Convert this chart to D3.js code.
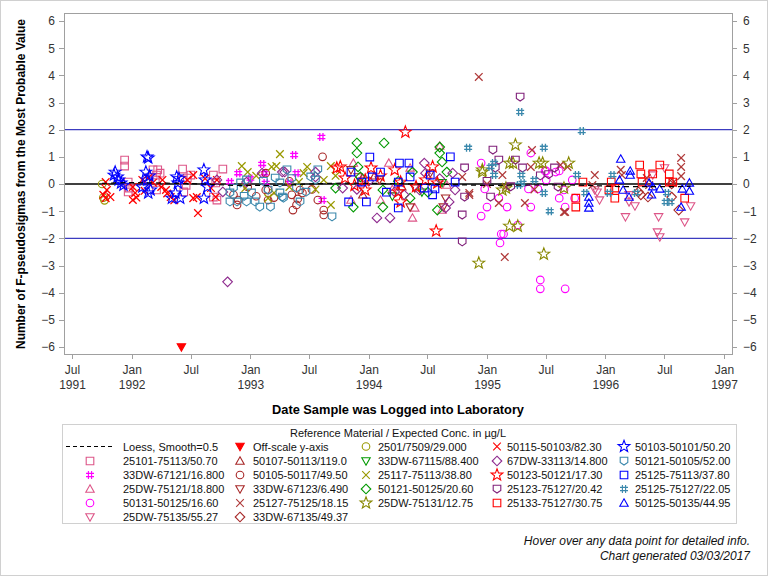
<!DOCTYPE html>
<html>
<head>
<meta charset="utf-8">
<script src="https://d3js.org/d3.v7.min.js"></script>
<style>
  html, body { margin: 0; padding: 0; background: #fff; }
  svg { display: block; font-family: "Liberation Sans", Arial, sans-serif; }
  .axis text { font-size: 12px; fill: #333; }
  .axis path, .axis line { stroke: #a0a0a0; shape-rendering: crispEdges; }
  .leg text { font-size: 11px; fill: #111; }
</style>
</head>
<body>
<svg id="chart" width="768" height="576"></svg>
<script>
// [decimal year, pseudosigmas]
const ref2501 = [[1991.75,0.0],[1991.77,-0.6],[1991.76,-0.5]];
const red50115 = [[1991.78,0.07],[1991.79,-0.22],[1991.76,-0.4],[1991.82,-0.48],[1991.78,-0.52],[1992.01,-0.11],[1992.03,-0.33],[1992.01,-0.59],[1992.09,0.15],[1992.14,0.22],[1992.26,0.15],[1992.29,-0.22],[1992.33,-0.48],[1992.25,-0.11],[1992.52,0.33],[1992.55,-0.48],[1992.52,-0.52],[1992.56,-1.07],[1992.67,-0.15],[1992.71,-0.48],[1992.72,0.15],[1992.47,0.15],[1992.04,-0.5],[1992.30,-0.35],[1992.18,0.05],[1992.62,0.2],[1992.36,-0.6],[1992.11,-0.25]];
const blue50103 = [[1991.86,0.44],[1991.88,0.26],[1991.89,0.15],[1991.85,0.33],[1991.91,0.04],[1992.13,1.0],[1992.14,0.96],[1992.12,0.44],[1992.13,0.15],[1992.16,-0.22],[1992.14,-0.33],[1992.38,0.26],[1992.39,0.04],[1992.37,-0.33],[1992.41,-0.52],[1992.34,-0.52],[1992.61,0.52],[1992.62,0.15],[1992.64,-0.11],[1992.61,-0.52],[1991.93,-0.04],[1992.09,-0.11],[1992.15,0.3],[1992.40,0.2]];
const pink25101 = [[1991.94,0.88],[1991.94,0.66],[1991.97,0.07],[1991.98,-0.15],[1991.97,-0.29],[1992.18,0.52],[1992.21,0.33],[1992.22,0.52],[1992.2,0.15],[1992.21,-0.22],[1992.43,0.55],[1992.43,0.15],[1992.47,0.22],[1992.44,-0.29],[1992.69,0.33],[1992.71,0.04],[1992.77,0.55],[1992.72,-0.59],[1992.69,-0.48],[1992.5,0.33],[1992.24,0.4],[1992.46,-0.05]];
const offScale = [[1992.42,-6]];
const teal50121 = [[1992.83,-0.33],[1992.83,-0.66],[1992.89,-0.66],[1992.97,-0.66],[1993.04,-0.66],[1993.08,-0.85],[1993.17,-0.85],[1992.97,0.15],[1993.01,-0.33],[1993.21,0.22],[1993.25,-0.33],[1993.28,-0.52],[1993.31,0.52],[1993.39,-0.15],[1993.42,-0.66],[1993.57,0.52],[1993.55,0.15],[1993.69,-1.21],[1992.86,-0.15],[1992.92,0.04],[1993.15,-0.22],[1993.25,0.04],[1993.51,0.26],[1993.27,-0.48],[1993.11,0.1],[1993.35,0.2],[1993.47,-0.3],[1992.95,-0.45]];
const dred50105 = [[1992.86,-0.4],[1992.89,-0.77],[1992.9,-0.59],[1993.13,-0.22],[1993.15,-0.59],[1993.13,0.4],[1993.35,-0.4],[1993.36,-0.96],[1993.39,-0.77],[1993.42,-0.22],[1993.61,1.0],[1993.62,-0.96],[1993.62,-1.14],[1993.57,-0.59],[1993.15,-0.22],[1992.98,-0.11],[1993.44,-0.33],[1993.40,-0.55],[1993.05,-0.45],[1993.33,0.1],[1993.52,-0.2],[1993.2,-0.5]];
const olive25117 = [[1993.25,1.1],[1992.93,0.66],[1992.98,0.44],[1993.18,0.63],[1993.22,0.66],[1993.48,0.63],[1993.68,0.66],[1993.68,-0.77],[1993.2,-0.33],[1993.15,-0.52],[1992.96,-0.15],[1993.45,0.4],[1993.62,0.15],[1993.41,0.07],[1993.33,-0.11],[1993.05,0.3],[1993.55,-0.2],[1993.72,0.3]];
const mag33DW67121 = [[1993.37,1.07],[1993.1,0.74],[1992.9,0.4],[1993.13,0.04],[1993.39,0.4],[1993.33,0.04],[1993.61,-0.59],[1993.6,1.73],[1992.83,0.07],[1993.12,0.4],[1993.0,0.2]];
const purp67DW = [[1992.81,-3.6],[1992.77,-0.29],[1992.97,0.07],[1993.1,0.4],[1993.27,0.44],[1993.55,0.26],[1993.78,-0.15],[1994.07,-1.25],[1994.18,-1.25],[1994.43,-0.22],[1994.48,0.4],[1994.47,0.77],[1994.22,-0.29],[1994.71,0.4],[1994.65,-0.88],[1994.73,-0.22],[1994.68,-0.66],[1992.72,0.15],[1993.29,0.44],[1993.55,0.44],[1994.0,0.1],[1993.9,-0.2],[1994.3,-0.4],[1994.6,0.2]];
const green50121 = [[1993.9,1.51],[1993.9,1.14],[1994.13,1.51],[1994.6,1.14],[1994.6,1.36],[1994.62,0.81],[1994.66,0.44],[1994.37,0.44],[1994.35,-0.52],[1994.12,-0.22],[1993.87,-0.85],[1994.12,-0.85],[1993.93,0.26],[1993.91,0.63],[1994.58,-0.96],[1993.72,-0.15],[1994.25,0.1],[1994.5,-0.3]];
const red50123 = [[1994.31,1.91],[1993.76,0.63],[1994.02,0.59],[1994.22,0.52],[1994.54,0.63],[1993.8,0.22],[1993.97,0.15],[1994.27,0.07],[1994.58,0.04],[1993.97,-0.22],[1994.25,-0.29],[1994.27,-0.66],[1994.48,0.15],[1994.57,-1.73],[1993.73,0.59],[1994.1,0.3],[1994.4,-0.1],[1993.88,-0.05]];
const blue25125 = [[1994.01,0.99],[1993.83,-0.66],[1993.98,-0.66],[1994.25,-0.88],[1994.26,0.77],[1994.34,0.77],[1994.52,0.33],[1994.54,-0.4],[1994.56,-0.18],[1994.73,0.07],[1993.94,0.07],[1994.03,0.26],[1993.85,0.44],[1994.1,0.44],[1994.25,0.07],[1994.35,0.26],[1994.69,1.0],[1994.47,-0.15],[1994.15,-0.3]];
const dred33DW67123 = [[1994.09,0.15],[1993.85,0.52],[1994.35,-0.85],[1994.39,-0.15],[1994.63,-0.85],[1994.65,-0.52],[1994.52,0.4],[1993.91,0.26]];
const pink25DW75121 = [[1994.6,1.4],[1993.87,0.77],[1994.17,0.77],[1993.85,-0.59],[1994.1,-0.59],[1994.39,-0.88],[1994.37,-1.25],[1994.66,-0.04],[1994.35,0.59],[1994.62,-0.96],[1993.95,0.2],[1994.2,-0.2]];
const green33DW67115 = [[1994.45,-0.3],[1994.62,0.05],[1994.2,-0.45]];
const dred50107 = [[1994.05,0.3],[1994.28,-0.1],[1993.95,-0.4]];
const purp25123 = [[1994.81,0.59],[1994.79,-1.14],[1994.79,-2.13],[1994.81,-0.48],[1995.03,-0.48],[1995.1,0.88],[1995.07,0.59],[1995.57,0.59],[1995.6,-0.11],[1995.05,1.25],[1995.24,0.88],[1995.3,0.59],[1995.28,3.2],[1995.0,0.1],[1995.2,-0.1],[1995.45,0.3],[1995.52,0.35]];
const teal25125 = [[1995.28,2.65],[1994.84,1.33],[1995.48,1.33],[1995.03,0.63],[1995.06,0.33],[1995.29,0.33],[1995.27,-0.04],[1995.48,-0.33],[1995.8,1.95],[1995.76,0.33],[1995.53,-1.0],[1995.83,-0.33],[1996.06,0.33],[1996.03,-0.33],[1996.26,-0.33],[1996.51,-0.66],[1996.55,-0.66],[1996.52,-0.33],[1995.06,0.77],[1995.3,0.04],[1995.4,0.15]];
const mag50131 = [[1994.95,0.77],[1994.98,-0.18],[1995.0,-0.85],[1994.95,-1.18],[1995.1,-0.52],[1995.17,-0.85],[1995.12,-1.84],[1995.14,-1.84],[1995.11,-2.17],[1995.26,-1.51],[1995.37,-0.85],[1995.35,-0.18],[1995.43,-0.18],[1995.45,-3.53],[1995.45,-3.86],[1995.66,-3.86],[1995.5,0.15],[1995.58,0.44],[1995.66,-0.85],[1995.74,-0.52],[1995.37,1.14],[1995.49,0.48],[1995.5,0.48],[1995.61,0.48],[1995.65,-0.22],[1995.72,0.15],[1995.61,-0.52]];
const olive25DW75131 = [[1994.93,-2.91],[1995.19,-1.55],[1995.26,-1.55],[1995.48,-2.58],[1994.96,0.44],[1995.22,0.77],[1995.69,0.77],[1995.44,0.77],[1995.16,-0.15],[1995.65,-0.15],[1995.24,1.44],[1995.47,0.77],[1995.19,0.77],[1994.96,0.52],[1995.13,-0.22]];
const dred25127 = [[1994.93,3.94],[1995.15,-2.69],[1995.1,-0.7],[1995.16,-0.11],[1995.65,-1.03],[1995.68,0.63],[1995.91,0.33],[1995.89,-0.04],[1995.37,0.63],[1994.85,-0.33],[1994.79,0.26],[1995.38,1.25],[1995.32,-0.7],[1994.85,-0.4],[1995.13,0.33],[1995.62,0.7],[1995.66,-1.03],[1996.13,0.52],[1996.14,0.33],[1996.35,0.22],[1996.37,-0.04],[1996.64,0.96],[1996.64,0.63],[1996.64,0.29],[1996.57,0.04],[1995.4,-0.2],[1995.0,0.0]];
const red25133 = [[1995.75,-0.52],[1995.75,-0.85],[1995.81,0.07],[1996.05,0.07],[1996.08,-0.52],[1996.29,0.7],[1996.3,0.37],[1996.31,0.07],[1996.4,0.37],[1996.46,0.7],[1996.54,0.37],[1996.54,0.07],[1996.57,0.07],[1996.67,-0.52],[1996.03,-0.22],[1996.08,-0.15]];
const blue50125 = [[1996.13,0.92],[1996.21,0.48],[1996.21,0.33],[1996.12,0.15],[1996.15,-0.22],[1996.2,-0.48],[1995.86,-0.48],[1995.86,-0.7],[1995.86,-0.88],[1996.37,0.04],[1996.39,-0.4],[1996.46,-0.18],[1996.65,-0.18],[1996.71,0.04],[1996.71,-0.26],[1996.64,-0.85],[1996.4,-0.1]];
const pink25DW75135 = [[1995.91,-0.22],[1995.95,-0.59],[1996.17,-1.21],[1996.2,-0.66],[1996.25,-0.81],[1996.45,-1.21],[1996.44,-1.77],[1996.46,-1.95],[1996.67,-1.4],[1996.72,-0.81],[1996.5,0.59],[1996.4,0.33],[1996.2,-0.4],[1995.93,-0.3]];
const dred33DW67135 = [[1996.28,-0.29],[1996.3,-0.4],[1996.56,-0.48],[1996.62,-0.96],[1996.36,-0.48],[1996.56,0.0]];
const loess = [[1991.75,0.02],[1992.0,0.05],[1992.3,0.03],[1992.6,0.0],[1992.9,-0.05],[1993.2,-0.05],[1993.5,0.0],[1993.8,0.03],[1994.1,0.02],[1994.4,0.0],[1994.7,-0.02],[1995.0,-0.05],[1995.3,-0.04],[1995.6,-0.03],[1995.9,-0.06],[1996.2,-0.1],[1996.5,-0.1],[1996.72,-0.08]];

const yTicks = [-6,-5,-4,-3,-2,-1,0,1,2,3,4,5,6];
const refLines = [-2, 2];
const legendTitle = "Reference Material / Expected Conc. in \u00b5g/L";

// legend order (column by column): label, data, symbol, colour
const series = [
  ["25101-75113/50.70", pink25101, "square", "#dd5588"],
  ["33DW-67121/16.800", mag33DW67121, "hash", "#ff00ff"],
  ["25DW-75121/18.800", pink25DW75121, "triangle", "#dd5588"],
  ["50131-50125/16.60", mag50131, "circle", "#ff00ff"],
  ["25DW-75135/55.27", pink25DW75135, "triangledown", "#dd5588"],
  ["Off-scale y-axis", offScale, "filleddown", "#ff0000"],
  ["50107-50113/119.0", dred50107, "triangle", "#a82828"],
  ["50105-50117/49.50", dred50105, "circle", "#a82828"],
  ["33DW-67123/6.490", dred33DW67123, "triangledown", "#a82828"],
  ["25127-75125/18.15", dred25127, "x", "#b03a3a"],
  ["33DW-67135/49.37", dred33DW67135, "diamond", "#a82828"],
  ["2501/7509/29.000", ref2501, "circle", "#999900"],
  ["33DW-67115/88.400", green33DW67115, "triangledown", "#009900"],
  ["25117-75113/38.80", olive25117, "x", "#999900"],
  ["50121-50125/20.60", green50121, "diamond", "#009900"],
  ["25DW-75131/12.75", olive25DW75131, "star", "#888800"],
  ["50115-50103/82.30", red50115, "x", "#ff0000"],
  ["67DW-33113/14.800", purp67DW, "diamond", "#8e2a8e"],
  ["50123-50121/17.30", red50123, "star", "#ff0000"],
  ["25123-75127/20.42", purp25123, "shield", "#80207a"],
  ["25133-75127/30.75", red25133, "square", "#ff0000"],
  ["50103-50101/50.20", blue50103, "star", "#0000ff"],
  ["50121-50105/52.00", teal50121, "shield", "#3a88ac"],
  ["25125-75113/37.80", blue25125, "square", "#0000ff"],
  ["25125-75127/22.05", teal25125, "hash", "#3a88ac"],
  ["50125-50135/44.95", blue50125, "triangle", "#0000ff"]
];

function toDate(yr) {
  const yy = Math.floor(yr);
  const start = new Date(yy, 0, 1).getTime();
  return new Date(start + (yr - yy) * 365.25 * 864e5);
}

function starPath(ro, ri) {
  let p = "";
  for (let i = 0; i < 10; i++) {
    const r = i % 2 ? ri : ro;
    const a = -Math.PI / 2 + i * Math.PI / 5;
    p += (i ? "L" : "M") + (r * Math.cos(a)).toFixed(2) + "," + (r * Math.sin(a)).toFixed(2);
  }
  return p + "Z";
}

const symbols = {
  square: "M-3.8,-3.8H3.8V3.8H-3.8Z",
  circle: "M3.8,0A3.8,3.8 0 1,1 -3.8,0A3.8,3.8 0 1,1 3.8,0Z",
  triangle: "M0,-4.2L4.2,3.2L-4.2,3.2Z",
  triangledown: "M0,4.2L4.2,-3.2L-4.2,-3.2Z",
  filleddown: "M0,4.2L4.2,-3.2L-4.2,-3.2Z",
  diamond: "M0,-4.8L4.8,0L0,4.8L-4.8,0Z",
  x: "M-3.8,-3.8L3.8,3.8M-3.8,3.8L3.8,-3.8",
  star: starPath(6.2, 2.6),
  hash: "M-1.6,-4V4M1.6,-4V4M-4,-1.6H4M-4,1.6H4",
  shield: "M-3.8,-3.8H3.8V1.4L0,4L-3.8,1.4Z"
};

const svg = d3.select("#chart");
const W = 768, H = 576;
const plotL = 64, plotR = 732, plotT = 13, plotB = 354;

svg.append("rect").attr("x", 0.5).attr("y", 0.5).attr("width", W - 1).attr("height", H - 1)
  .attr("fill", "#fff").attr("stroke", "#d0d0d0");

const x = d3.scaleTime()
  .domain([new Date(1991, 6, 1), new Date(1997, 0, 1)])
  .range([72, 724]);
const y = d3.scaleLinear().domain([-6, 6]).range([347, 21]);

// axes
const xAxis = svg.append("g").attr("class", "axis")
  .attr("transform", `translate(0,${plotB})`)
  .call(d3.axisBottom(x).ticks(d3.timeMonth.every(6)).tickSize(5).tickPadding(4).tickFormat(d => ""));
xAxis.select(".domain").remove();
xAxis.selectAll(".tick").each(function (d, i) {
  const t = d3.select(this).append("text").attr("fill", "#333").attr("text-anchor", "middle");
  t.append("tspan").attr("x", 0).attr("y", 20).text(d3.timeFormat("%b")(d));
  if (i === 0 || d.getMonth() === 0)
    t.append("tspan").attr("x", 0).attr("y", 35).text(d3.timeFormat("%Y")(d));
});

const yl = svg.append("g").attr("class", "axis").attr("transform", `translate(${plotL},0)`)
  .call(d3.axisLeft(y).tickValues(yTicks).tickSize(5).tickPadding(4));
yl.select(".domain").remove();
const yr = svg.append("g").attr("class", "axis").attr("transform", `translate(${plotR},0)`)
  .call(d3.axisRight(y).tickValues(yTicks).tickSize(5).tickPadding(6));
yr.select(".domain").remove();

// reference lines
const plot = svg.append("g");
plot.selectAll(".ref").data(refLines).join("line")
  .attr("x1", plotL).attr("x2", plotR)
  .attr("y1", d => y(d)).attr("y2", d => y(d))
  .attr("stroke", "#3c3cc0").attr("stroke-width", 1.2);
plot.append("line").attr("x1", plotL).attr("x2", plotR)
  .attr("y1", y(0)).attr("y2", y(0)).attr("stroke", "#000").attr("stroke-width", 1.5);

// points
series.forEach(([label, pts, sym, col]) => {
  const filled = sym === "filleddown";
  const stroked = sym === "x" || sym === "hash";
  plot.append("g").selectAll("path").data(pts).join("path")
    .attr("transform", d => `translate(${x(toDate(d[0]))},${y(d[1])})`)
    .attr("d", symbols[sym])
    .attr("fill", filled ? col : "none")
    .attr("stroke", col)
    .attr("stroke-width", stroked ? 1.3 : 1.1);
});

plot.append("path").datum(loess)
  .attr("d", d3.line().x(d => x(toDate(d[0]))).y(d => y(d[1])).curve(d3.curveMonotoneX))
  .attr("fill", "none").attr("stroke", "#000").attr("stroke-width", 1.2)
  .attr("stroke-dasharray", "5,4");

// frame
svg.append("rect").attr("x", plotL + 0.5).attr("y", plotT + 0.5)
  .attr("width", plotR - plotL).attr("height", plotB - plotT)
  .attr("fill", "none").attr("stroke", "#a0a0a0");

// axis titles
svg.append("text")
  .attr("transform", "translate(25,184) rotate(-90)")
  .attr("text-anchor", "middle").attr("font-size", 12).attr("font-weight", "bold")
  .attr("textLength", 330).attr("lengthAdjust", "spacingAndGlyphs")
  .text("Number of F-pseudosigmas from the Most Probable Value");
svg.append("text")
  .attr("x", 398).attr("y", 414)
  .attr("text-anchor", "middle").attr("font-size", 12).attr("font-weight", "bold")
  .attr("textLength", 252).attr("lengthAdjust", "spacingAndGlyphs")
  .text("Date Sample was Logged into Laboratory");

// legend
const leg = svg.append("g").attr("class", "leg");
leg.append("rect").attr("x", 62.5).attr("y", 424.5).attr("width", 674).attr("height", 99)
  .attr("fill", "none").attr("stroke", "#d0d0d0");
leg.append("text").attr("x", 398).attr("y", 437).attr("text-anchor", "middle")
  .attr("font-size", 12).text(legendTitle);

const colSym = [90, 240, 366, 497, 624];
const colTxt = [123, 253, 378, 507, 635];
const rowY = [446.5, 461, 475, 489, 503, 517];

leg.append("line").attr("x1", 66).attr("x2", 115).attr("y1", rowY[0]).attr("y2", rowY[0])
  .attr("stroke", "#000").attr("stroke-dasharray", "4,3");
leg.append("text").attr("x", colTxt[0]).attr("y", rowY[0] + 4).text("Loess, Smooth=0.5");

series.forEach(([label, pts, sym, col], i) => {
  const slot = i + 1;
  let c, r;
  if (slot < 12) { c = Math.floor(slot / 6); r = slot % 6; }
  else { c = 2 + Math.floor((slot - 12) / 5); r = (slot - 12) % 5; }
  const filled = sym === "filleddown";
  leg.append("path")
    .attr("transform", `translate(${colSym[c]},${rowY[r]})`)
    .attr("d", symbols[sym])
    .attr("fill", filled ? col : "none").attr("stroke", col)
    .attr("stroke-width", 1.1);
  leg.append("text").attr("x", colTxt[c]).attr("y", rowY[r] + 4).text(label);
});

// footnotes
svg.append("text").attr("x", 750).attr("y", 545).attr("text-anchor", "end")
  .attr("font-size", 12).attr("font-style", "italic").attr("fill", "#111")
  .text("Hover over any data point for detailed info.");
svg.append("text").attr("x", 750).attr("y", 560).attr("text-anchor", "end")
  .attr("font-size", 12).attr("font-style", "italic").attr("fill", "#111")
  .text("Chart generated 03/03/2017");
</script>
</body>
</html>
